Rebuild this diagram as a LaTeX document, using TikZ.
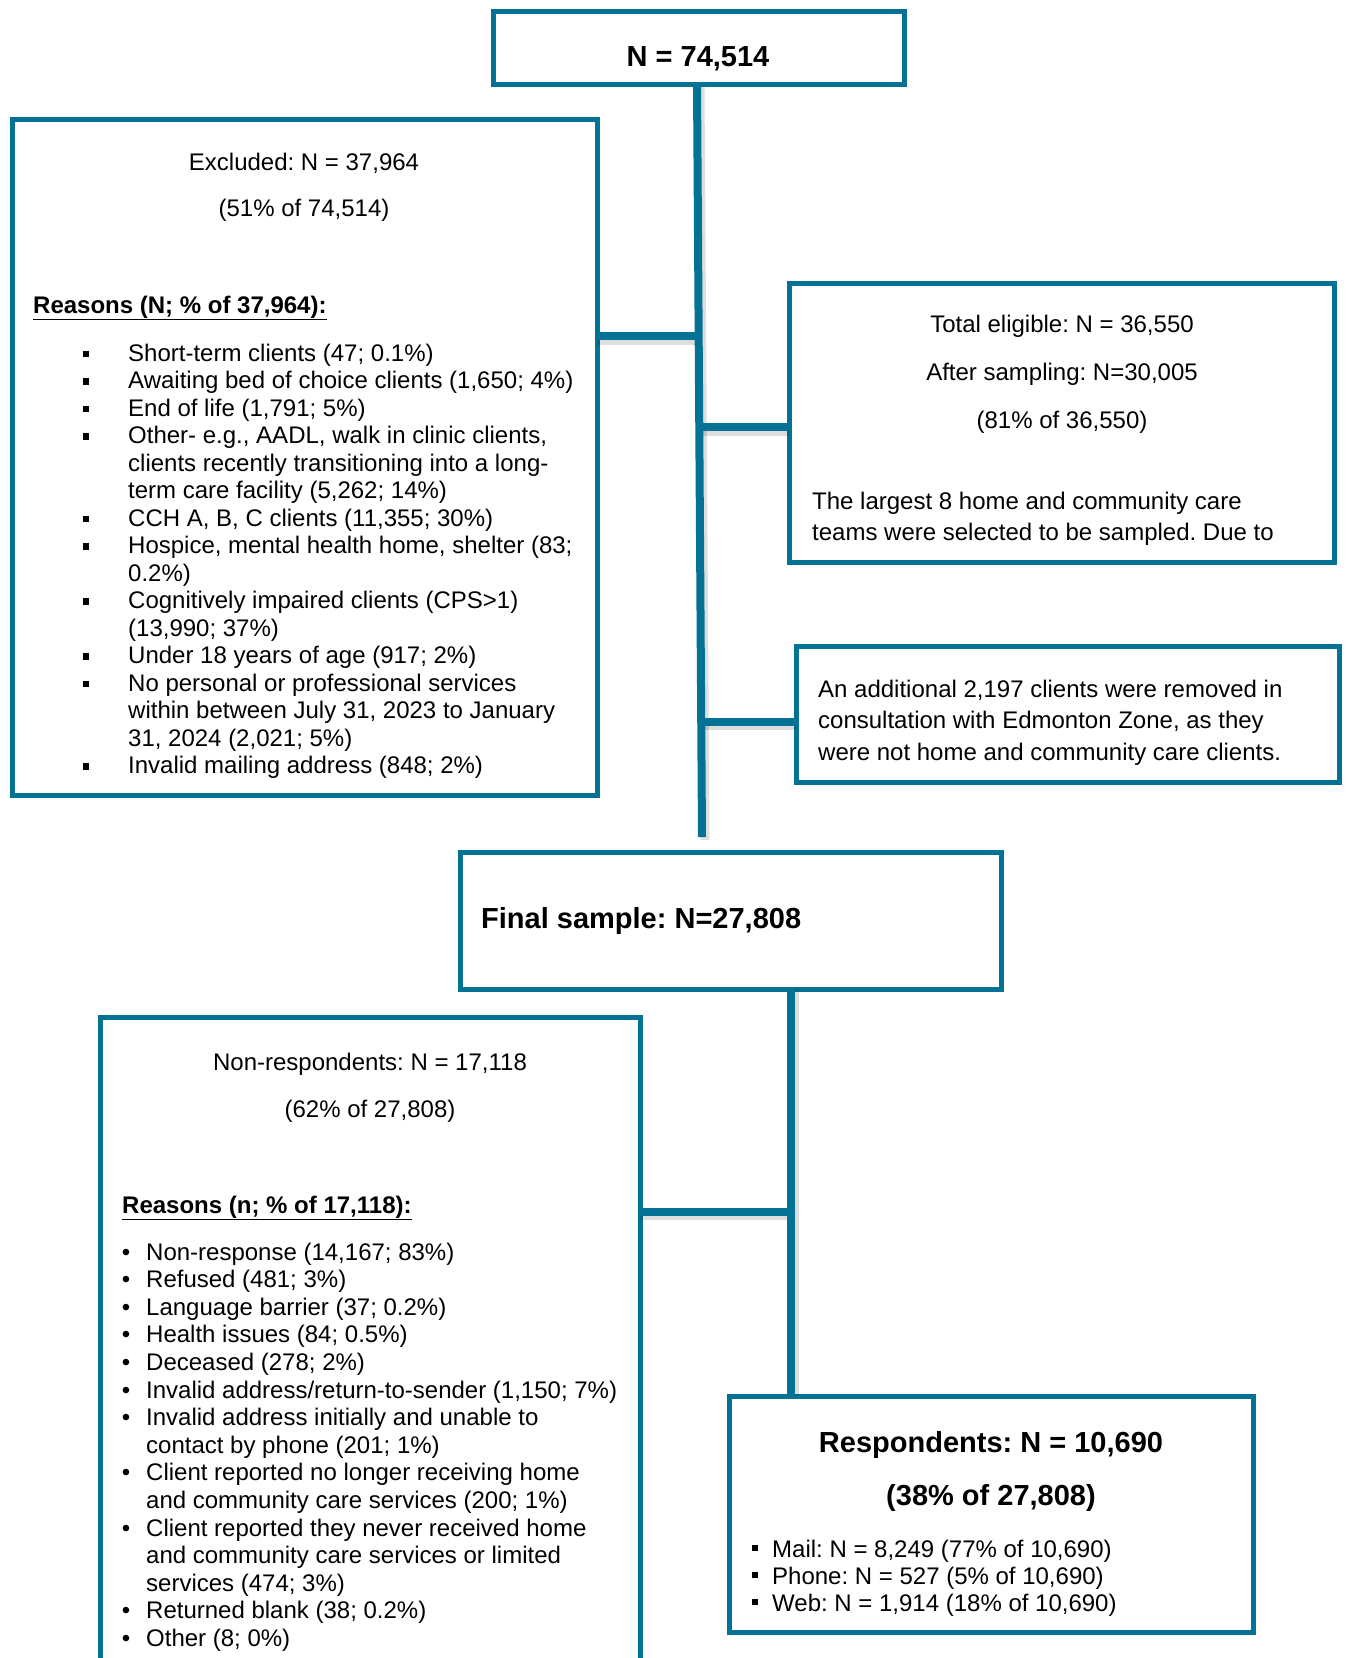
\documentclass[tikz,border=0pt]{standalone}
\usepackage{fontspec}
\setmainfont{Liberation Sans}
\usetikzlibrary{calc}
\definecolor{boxblue}{RGB}{4,114,148}
\newcommand\sqbul{\raisebox{4pt}{\rule{6.5pt}{6.5pt}}}
\newcommand\sqbulsm{\raisebox{6pt}{\rule{6pt}{6pt}}}
\frenchspacing
\tikzset{
  box/.style={draw=boxblue, line width=5pt, fill=white, inner sep=0pt, outer sep=0pt},
  conn/.style={draw=boxblue, line width=8pt},
  shad/.style={draw=black, opacity=0.13, line width=9pt},
  txt/.style={inner sep=0pt, font=\fontsize{24}{27.5}\selectfont\frenchspacing},
  rbtxt/.style={inner sep=0pt, font=\fontsize{24}{27.5}\selectfont\bfseries\frenchspacing},
  btxt/.style={inner sep=0pt, font=\fontsize{29}{33}\selectfont\bfseries\frenchspacing},
}
\begin{document}
\begin{tikzpicture}[x=1pt,y=-1pt]
\useasboundingbox (0,0) rectangle (1348,1658);
\clip (0,0) rectangle (1348,1658);
\fill[white] (0,0) rectangle (1348,1658);

% ---- coordinates of the connector lines
\coordinate (mtop) at (697,84);
\coordinate (mbot) at (702,837);
\coordinate (j1) at ($(mtop)!0.335!(mbot)$);
\coordinate (j2) at ($(mtop)!0.456!(mbot)$);
\coordinate (j3) at ($(mtop)!0.847!(mbot)$);
\coordinate (k) at (791,0);
\coordinate (j4) at (791,1211.5);

% ---- boxes
\node[box, anchor=north west, minimum width=411, minimum height=73] (top) at (493,11) {};
\node[box, anchor=north west, minimum width=585, minimum height=676] (ex) at (12,119) {};
\node[box, anchor=north west, minimum width=545, minimum height=279] (el) at (789,283) {};
\node[box, anchor=north west, minimum width=543, minimum height=136] (ad) at (796,646) {};
\node[box, anchor=north west, minimum width=541, minimum height=137] (fs) at (460,852) {};
\node[box, anchor=north west, minimum width=540, minimum height=700] (nr) at (100,1017) {};
\node[box, anchor=north west, minimum width=524, minimum height=236] (rs) at (729,1396) {};

% ---- connector shadows
\draw[shad] ($(mtop)+(3,3)$) -- ($(mbot)+(3,3)$);
\draw[shad] ($(ex.east |- j1)+(0,4)$) -- ($(j1)+(0,4)$);
\draw[shad] ($(j2)+(0,4)$) -- ($(el.west |- j2)+(0,4)$);
\draw[shad] ($(j3)+(0,4)$) -- ($(ad.west |- j3)+(0,4)$);
\draw[shad] ($(fs.south -| k)+(3,0)$) -- ($(rs.north -| k)+(3,0)$);
\draw[shad] ($(nr.east |- j4)+(0,4)$) -- ($(j4)+(-4,4)$);

% ---- connectors
\draw[conn] (top.south -| mtop) -- (mbot);
\draw[conn] (ex.east |- j1) -- (j1);
\draw[conn] (j2) -- (el.west |- j2);
\draw[conn] (j3) -- (ad.west |- j3);
\draw[conn] (fs.south -| k) -- (rs.north -| k);
\draw[conn] (nr.east |- j4) -- (j4);

% ---- top box
\node[btxt, anchor=base] (topt) at (698,66) {N = 74,514};

% ---- excluded box
\node[txt, anchor=base] (ex1) at (304,170) {Excluded: N = 37,964};
\node[txt, anchor=base] (ex2) at (304,216) {(51\% of 74,514)};
\node[rbtxt, anchor=base west] (ex3) at (33,313) {\underline{Reasons (N; \% of 37,964):}};
\foreach \t [count=\i from 0] in {
  {Short-term clients (47; 0.1\%)},
  {Awaiting bed of choice clients (1,650; 4\%)},
  {End of life (1,791; 5\%)},
  {Other- e.g., AADL, walk in clinic clients,},
  {clients recently transitioning into a long-},
  {term care facility (5,262; 14\%)},
  {CCH A, B, C clients (11,355; 30\%)},
  {Hospice, mental health home, shelter (83;},
  {0.2\%)},
  {Cognitively impaired clients (CPS>1)},
  {(13,990; 37\%)},
  {Under 18 years of age (917; 2\%)},
  {No personal or professional services},
  {within between July 31, 2023 to January},
  {31, 2024 (2,021; 5\%)},
  {Invalid mailing address (848; 2\%)}}
  \node[txt, anchor=base west] (exl\i) at (128,{361+27.5*\i}) {\t};
\foreach \i in {0,1,2,3,6,7,9,11,12,15}
  \node[txt, anchor=base] (exb\i) at (86,{361+27.5*\i}) {\sqbul};

% ---- eligible box
\node[txt, anchor=base] (el1) at (1062,332) {Total eligible: N = 36,550};
\node[txt, anchor=base] (el2) at (1062,380) {After sampling: N=30,005};
\node[txt, anchor=base] (el3) at (1062,428) {(81\% of 36,550)};
\node[txt, anchor=base west] (el4) at (812,509) {The largest 8 home and community care};
\node[txt, anchor=base west] (el5) at (812,540) {teams were selected to be sampled. Due to};

% ---- additional box
\node[txt, anchor=base west] (ad1) at (818,697) {An additional 2,197 clients were removed in};
\node[txt, anchor=base west] (ad2) at (818,728.5) {consultation with Edmonton Zone, as they};
\node[txt, anchor=base west] (ad3) at (818,760) {were not home and community care clients.};

% ---- final sample
\node[btxt, anchor=base west] (fst) at (481,928) {Final sample: N=27,808};

% ---- non-respondents box
\node[txt, anchor=base] (nr1) at (370,1070) {Non-respondents: N = 17,118};
\node[txt, anchor=base] (nr2) at (370,1117) {(62\% of 27,808)};
\node[rbtxt, anchor=base west] (nr3) at (122,1213) {\underline{Reasons (n; \% of 17,118):}};
\foreach \t [count=\i from 0] in {
  {Non-response (14,167; 83\%)},
  {Refused (481; 3\%)},
  {Language barrier (37; 0.2\%)},
  {Health issues (84; 0.5\%)},
  {Deceased (278; 2\%)},
  {Invalid address/return-to-sender (1,150; 7\%)},
  {Invalid address initially and unable to},
  {contact by phone (201; 1\%)},
  {Client reported no longer receiving home},
  {and community care services (200; 1\%)},
  {Client reported they never received home},
  {and community care services or limited},
  {services (474; 3\%)},
  {Returned blank (38; 0.2\%)},
  {Other (8; 0\%)}}
  \node[txt, anchor=base west] (nrl\i) at (146,{1260+27.6*\i}) {\t};
\foreach \i in {0,1,2,3,4,5,6,8,10,13,14}
  \node[txt, anchor=base] (nrb\i) at (126,{1260+27.6*\i}) {\textbullet};

% ---- respondents box
\node[btxt, anchor=base] (rs1) at (991,1452) {Respondents: N = 10,690};
\node[btxt, anchor=base] (rs2) at (991,1505) {(38\% of 27,808)};
\node[txt, anchor=base west] (rs3) at (772,1557) {Mail: N = 8,249 (77\% of 10,690)};
\node[txt, anchor=base west] (rs4) at (772,1584) {Phone: N = 527 (5\% of 10,690)};
\node[txt, anchor=base west] (rs5) at (772,1611) {Web: N = 1,914 (18\% of 10,690)};
\foreach \i/\y in {3/1557,4/1584,5/1611}
  \node[txt, anchor=base] (rsb\i) at (755,\y) {\sqbulsm};
\end{tikzpicture}
\end{document}
